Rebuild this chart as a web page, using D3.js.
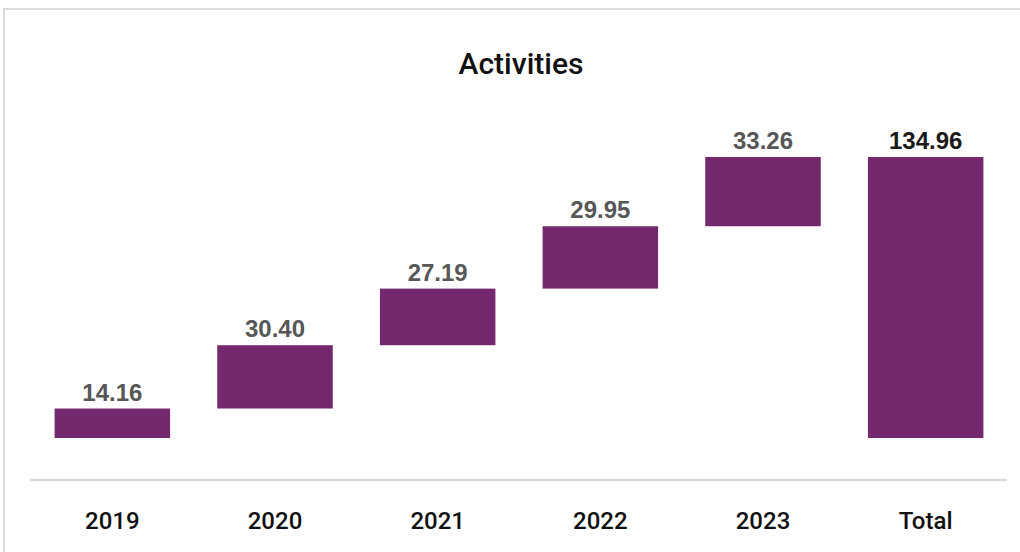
<!DOCTYPE html>
<html>
<head>
<meta charset="utf-8">
<script src="https://cdn.jsdelivr.net/npm/d3@7"></script>
<style>
  html, body { margin: 0; padding: 0; background: #fff; }
  svg { display: block; }
</style>
</head>
<body>
<svg id="chart" width="1020" height="552"></svg>
<script>
// Yearly activity amounts and their running total
const categories = ["2019", "2020", "2021", "2022", "2023", "Total"];
const increments = [14.16, 30.40, 27.19, 29.95, 33.26];
const totalValue = 134.96;
const chartTitle = "Activities";

// Build waterfall segments: each year floats on the cumulative sum before it
let running = 0;
const segments = increments.map((v, i) => {
  const seg = { cat: categories[i], start: running, end: running + v, value: v, total: false };
  running += v;
  return seg;
});
segments.push({ cat: categories[5], start: 0, end: totalValue, value: totalValue, total: true });

const svg = d3.select("#chart");
const W = 1020, H = 552;

// Card frame
svg.append("rect")
  .attr("x", 4).attr("y", 9)
  .attr("width", W + 10).attr("height", H + 10)
  .attr("fill", "#fff")
  .attr("stroke", "#dcdcdc")
  .attr("stroke-width", 2);

const x = d3.scaleBand()
  .domain(categories)
  .range([31, 1007])
  .paddingInner(0.29)
  .paddingOuter(0.145);

const y = d3.scaleLinear()
  .domain([0, totalValue])
  .range([438, 157]);

// Title
svg.append("text")
  .attr("x", 521).attr("y", 74)
  .attr("text-anchor", "middle")
  .attr("font-family", "Roboto, Liberation Sans, Arial, sans-serif")
  .attr("font-weight", 500)
  .attr("font-size", 30)
  .attr("fill", "#111")
  .attr("textLength", 125)
  .attr("lengthAdjust", "spacingAndGlyphs")
  .text(chartTitle);

// Bars
svg.append("g").selectAll("rect")
  .data(segments)
  .join("rect")
  .attr("x", d => x(d.cat))
  .attr("width", x.bandwidth())
  .attr("y", d => y(d.end))
  .attr("height", d => y(d.start) - y(d.end))
  .attr("fill", "#74296f");

// Value labels above each bar
svg.append("g").selectAll("text")
  .data(segments)
  .join("text")
  .attr("x", d => x(d.cat) + x.bandwidth() / 2)
  .attr("y", d => y(d.end) - 8)
  .attr("text-anchor", "middle")
  .attr("font-family", "Liberation Sans, Arial, sans-serif")
  .attr("font-weight", "bold")
  .attr("font-size", 24)
  .attr("fill", d => d.total ? "#1a1a1a" : "#575757")
  .text(d => d.value.toFixed(2));

// Category axis
const axis = svg.append("g")
  .attr("transform", "translate(0,480)")
  .call(d3.axisBottom(x).tickSize(0).tickPadding(32));
axis.select(".domain")
  .attr("stroke", "#d9d9d9")
  .attr("stroke-width", 2.5)
  .attr("d", "M30,0H1007");
axis.selectAll("text")
  .attr("font-family", "Roboto, Liberation Sans, Arial, sans-serif")
  .attr("font-size", 24)
  .attr("font-weight", 500)
  .attr("fill", "#111");
</script>
</body>
</html>
